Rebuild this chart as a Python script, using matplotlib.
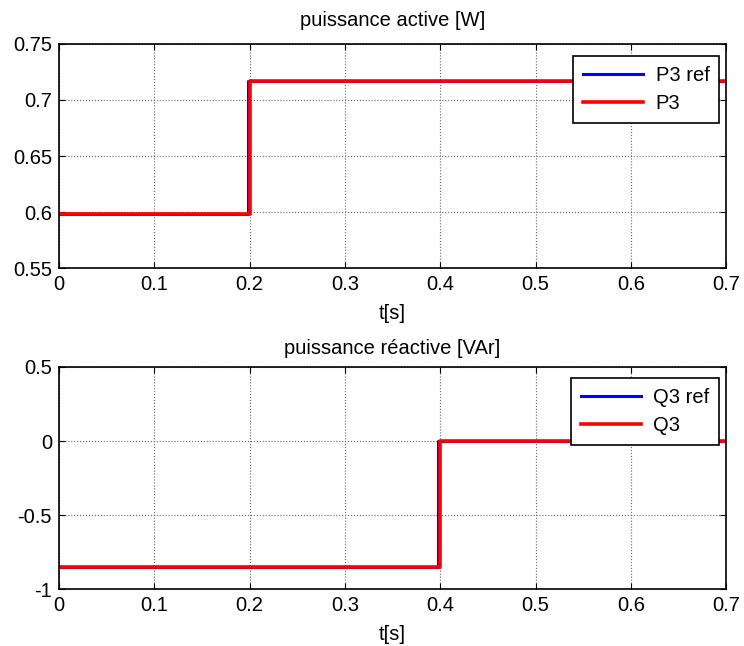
import numpy as np
import matplotlib.pyplot as plt

plt.rcParams['font.family'] = ['Liberation Sans', 'DejaVu Sans']

# top plot: active power
t_p_ref = [0, 0.198, 0.198, 0.7]
p3_ref = [0.598, 0.598, 0.717, 0.717]
t_p = [0, 0.2, 0.2, 0.7]
p3 = [0.598, 0.598, 0.717, 0.717]

# bottom plot: reactive power
t_q_ref = [0, 0.398, 0.398, 0.7]
q3_ref = [-0.85, -0.85, 0.0, 0.0]
t_q = [0, 0.4, 0.4, 0.7]
q3 = [-0.85, -0.85, 0.0, 0.0]

xticks = np.arange(0, 0.71, 0.1)
FS = 14.5

fig = plt.figure(figsize=(7.44, 6.46), dpi=100)
ax1 = fig.add_axes([0.0793, 0.585, 0.8967, 0.347])
ax2 = fig.add_axes([0.0793, 0.088, 0.8967, 0.344])


def style(ax, yticks, ylabels):
    ax.set_xlim(0, 0.7)
    ax.set_xticks(xticks)
    ax.set_xticklabels(['0', '0.1', '0.2', '0.3', '0.4', '0.5', '0.6', '0.7'])
    ax.set_yticks(yticks)
    ax.set_yticklabels(ylabels)
    ax.set_ylim(yticks[0], yticks[-1])
    ax.tick_params(direction='in', top=True, right=True, length=4, labelsize=FS, pad=5)
    ax.grid(True, color='#666666', linestyle=':', linewidth=0.8)
    for s in ax.spines.values():
        s.set_linewidth(1.2)
    ax.set_xlabel('t[s]', fontsize=FS, labelpad=7)


def add_legend(ax, top):
    leg = ax.legend(loc='upper right', bbox_to_anchor=(0.99, top), borderaxespad=0,
                    fontsize=FS, fancybox=False, edgecolor='black', framealpha=1,
                    handlelength=3.0, handletextpad=0.6, labelspacing=0.45, borderpad=0.5)
    leg.get_frame().set_linewidth(1.2)


ax1.plot(t_p_ref, p3_ref, color='blue', linewidth=2.2, label='P3 ref')
ax1.plot(t_p, p3, color='red', linewidth=2.6, label='P3')
style(ax1, [0.55, 0.6, 0.65, 0.7, 0.75], ['0.55', '0.6', '0.65', '0.7', '0.75'])
ax1.set_title('puissance active [W]', fontsize=FS, pad=13)
add_legend(ax1, 0.946)

ax2.plot(t_q_ref, q3_ref, color='blue', linewidth=2.2, label='Q3 ref')
ax2.plot(t_q, q3, color='red', linewidth=2.6, label='Q3')
style(ax2, [-1, -0.5, 0, 0.5], ['-1', '-0.5', '0', '0.5'])
ax2.set_title('puissance réactive [VAr]', fontsize=FS, pad=9)
add_legend(ax2, 0.95)

plt.savefig('out.png', dpi=100)
